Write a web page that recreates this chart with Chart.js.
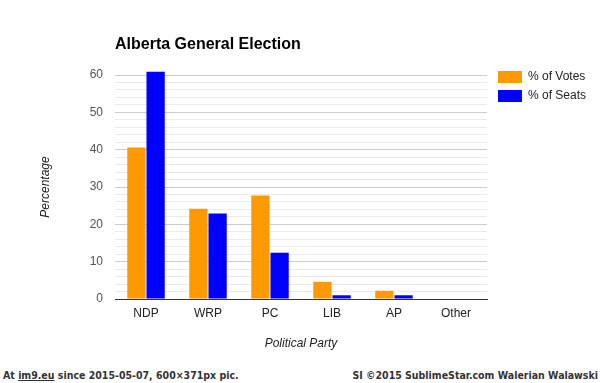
<!DOCTYPE html>
<html>
<head>
<meta charset="utf-8">
<script src="https://cdn.jsdelivr.net/npm/chart.js@4.4.0/dist/chart.umd.min.js"></script>
<style>
    body { margin: 0; background: #fff; }
    #wrap { width: 600px; height: 366px; position: relative; }
    #footer {
        position: relative; width: 600px; height: 17px;
        font-family: "DejaVu Sans Condensed", "DejaVu Sans", sans-serif;
        font-weight: bold; font-size: 10.5px; color: #333;
    }
    #footer .l { position: absolute; left: 3px; top: 3px; }
    #footer .r { position: absolute; right: 2px; top: 3px; }
    #footer u { color: #333; }
</style>
</head>
<body>
<div id="wrap"><canvas id="barChart" width="600" height="366"></canvas></div>
<div id="footer">
    <span class="l">At <u>im9.eu</u> since 2015-05-07, 600×371px pic.</span>
    <span class="r">SI ©2015 SublimeStar.com Walerian Walawski</span>
</div>
<script>
const parties = ['NDP', 'WRP', 'PC', 'LIB', 'AP', 'Other'];
const votes = [40.6, 24.2, 27.7, 4.6, 2.2, 0];
const seats = [60.9, 22.9, 12.4, 1.0, 1.0, 0];
const seriesNames = ['% of Votes', '% of Seats'];
const seriesColors = ['#ff9900', '#0000ff'];

const FONT = '"Liberation Sans", Arial, sans-serif';

// title + legend drawn at fixed spots like the original image
const headerAndLegend = {
    id: 'headerAndLegend',
    afterDraw(chart) {
        const ctx = chart.ctx;
        ctx.save();
        ctx.fillStyle = '#000';
        ctx.font = 'bold 16px ' + FONT;
        ctx.textBaseline = 'middle';
        ctx.textAlign = 'left';
        ctx.fillText('Alberta General Election', 115, 45);

        ctx.font = '12px ' + FONT;
        chart.data.datasets.forEach((ds, i) => {
            const y = 71 + i * 19;
            ctx.fillStyle = ds.backgroundColor;
            ctx.fillRect(498, y, 24, 12);
            ctx.fillStyle = '#222';
            ctx.fillText(ds.label, 528, y + 6);
        });
        ctx.restore();
    }
};

const ctx = document.getElementById('barChart').getContext('2d');
new Chart(ctx, {
    type: 'bar',
    data: {
        labels: parties,
        datasets: [
            { label: seriesNames[0], data: votes, backgroundColor: seriesColors[0] },
            { label: seriesNames[1], data: seats, backgroundColor: seriesColors[1] }
        ].map(d => Object.assign(d, {
            borderWidth: 0,
            categoryPercentage: 0.62,
            barPercentage: 0.95,
            clip: false
        }))
    },
    options: {
        responsive: false,
        animation: false,
        layout: { padding: { left: 34, right: 113, top: 75, bottom: 11 } },
        plugins: {
            legend: { display: false },
            title: { display: false },
            tooltip: { enabled: false }
        },
        scales: {
            x: {
                grid: { display: false, drawTicks: false },
                border: { color: '#333', width: 1 },
                ticks: { color: '#222', font: { family: FONT, size: 12 }, padding: 7 },
                title: {
                    display: true,
                    text: 'Political Party',
                    color: '#222',
                    font: { family: FONT, size: 12, style: 'italic' }
                },
                afterFit: (scale) => { scale.height = 56; }
            },
            y: {
                min: 0,
                max: 60,
                ticks: {
                    stepSize: 2,
                    autoSkip: false,
                    padding: 12,
                    color: '#555',
                    font: { family: FONT, size: 12 },
                    callback: (v) => (v % 10 === 0 ? v : '')
                },
                grid: {
                    drawTicks: false,
                    color: (c) => (c.tick && c.tick.value % 10 === 0 ? '#cccccc' : '#ebebeb')
                },
                border: { display: false },
                title: {
                    display: true,
                    text: 'Percentage',
                    color: '#222',
                    font: { family: FONT, size: 12, style: 'italic' }
                },
                afterFit: (scale) => { scale.width = 81; }
            }
        }
    },
    plugins: [headerAndLegend]
});
</script>
</body>
</html>
